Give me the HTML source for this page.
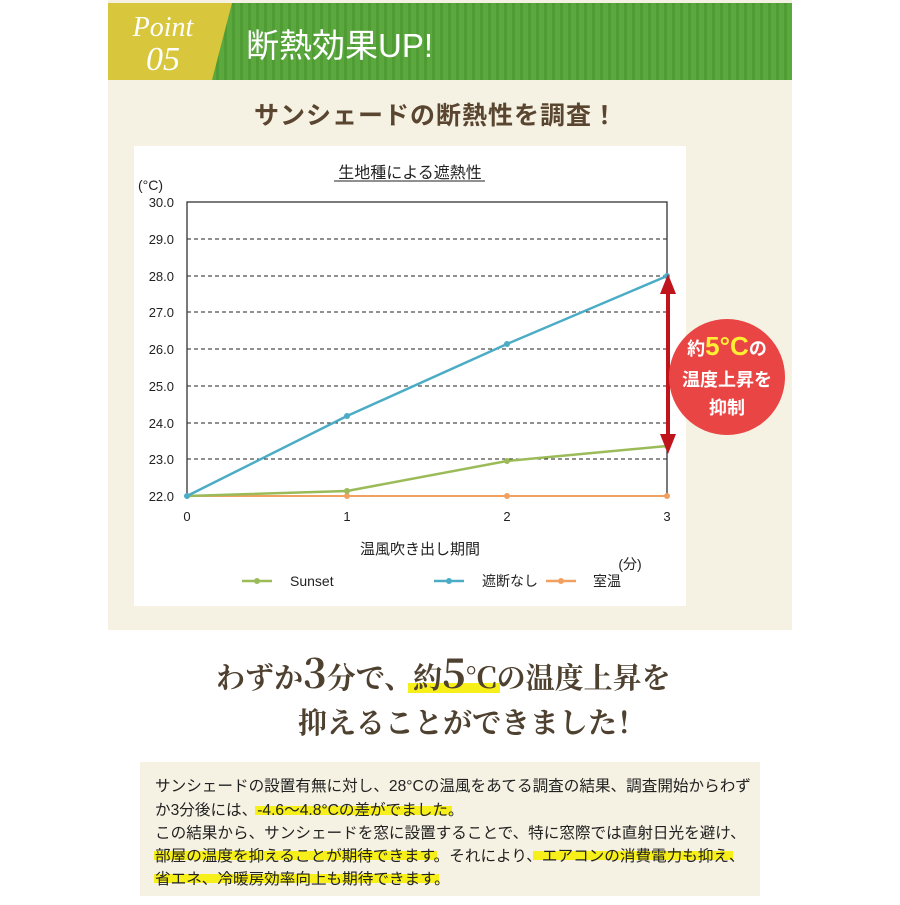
<!DOCTYPE html>
<html><head><meta charset="utf-8"><style>
body{margin:0;width:900px;height:900px;background:#fff;overflow:hidden;font-family:"Liberation Sans","Noto Sans CJK JP",sans-serif}
</style></head><body>
<svg width="900" height="900" xmlns="http://www.w3.org/2000/svg" font-family="'Liberation Sans','Noto Sans CJK JP',sans-serif">
<defs>
<pattern id="st" width="8" height="10" patternUnits="userSpaceOnUse"><rect width="8" height="10" fill="#5aa83e"/><rect width="3" height="10" fill="#4f9c35"/></pattern>
</defs>
<rect x="108" y="0" width="684" height="630" fill="#f5f2e3"/>
<rect x="108" y="3" width="684" height="77" fill="url(#st)"/>
<polygon points="108,3 232,3 212,80 108,80" fill="#d8c73c"/>
<text x="163" y="36" font-family="'Liberation Serif',serif" font-style="italic" font-size="28" fill="#fff" text-anchor="middle">Point</text>
<text x="163" y="70" font-family="'Liberation Serif',serif" font-style="italic" font-size="34" fill="#fff" text-anchor="middle">05</text>
<text x="246" y="57" font-size="33" fill="#fff">断熱効果UP!</text>
<text x="436" y="124" font-size="25" font-weight="bold" fill="#5a4630" text-anchor="middle" letter-spacing="1">サンシェードの断熱性を調査！</text>
<rect x="134" y="146" width="552" height="460" fill="#fff"/>
<text x="410" y="178" font-size="16" fill="#222" text-anchor="middle">生地種による遮熱性</text>
<line x1="334" y1="181" x2="485" y2="181" stroke="#222" stroke-width="1"/>
<text x="138" y="190" font-size="14" fill="#222">(°C)</text>
<g stroke="#222" stroke-width="1" stroke-dasharray="4,3">
<line x1="187" y1="239" x2="667" y2="239"/><line x1="187" y1="276" x2="667" y2="276"/><line x1="187" y1="312" x2="667" y2="312"/><line x1="187" y1="349" x2="667" y2="349"/><line x1="187" y1="386" x2="667" y2="386"/><line x1="187" y1="423" x2="667" y2="423"/><line x1="187" y1="459" x2="667" y2="459"/>
</g>
<rect x="187" y="202" width="480" height="294" fill="none" stroke="#333" stroke-width="1.3"/>
<g font-size="13" fill="#222" text-anchor="end">
<text x="174" y="207">30.0</text><text x="174" y="244">29.0</text><text x="174" y="281">28.0</text><text x="174" y="317">27.0</text><text x="174" y="354">26.0</text><text x="174" y="391">25.0</text><text x="174" y="428">24.0</text><text x="174" y="464">23.0</text><text x="174" y="501">22.0</text>
</g>
<g font-size="13" fill="#222" text-anchor="middle">
<text x="187" y="521">0</text><text x="347" y="521">1</text><text x="507" y="521">2</text><text x="667" y="521">3</text>
</g>
<text x="420" y="554" font-size="15" fill="#222" text-anchor="middle">温風吹き出し期間</text>
<text x="630" y="569" font-size="14" fill="#222" text-anchor="middle">(分)</text>
<polyline points="187,496 347,496 507,496 667,496" fill="none" stroke="#f0a060" stroke-width="2"/>
<polyline points="187,496 347,491 507,461 667,446" fill="none" stroke="#9bbb59" stroke-width="2.5"/>
<polyline points="187,496 347,416 507,344 667,276" fill="none" stroke="#4bacc6" stroke-width="2.5"/>
<g fill="#f0a060"><circle cx="347" cy="496" r="3"/><circle cx="507" cy="496" r="3"/><circle cx="667" cy="496" r="3"/></g>
<g fill="#9bbb59"><circle cx="347" cy="491" r="3"/><circle cx="507" cy="461" r="3"/><circle cx="667" cy="446" r="3"/></g>
<g fill="#4bacc6"><circle cx="187" cy="496" r="3"/><circle cx="347" cy="416" r="3"/><circle cx="507" cy="344" r="3"/><circle cx="667" cy="276" r="3"/></g>
<line x1="242" y1="581" x2="272" y2="581" stroke="#9bbb59" stroke-width="2.5"/><circle cx="257" cy="581" r="3" fill="#9bbb59"/>
<text x="290" y="586" font-size="14" fill="#222">Sunset</text>
<line x1="434" y1="581" x2="464" y2="581" stroke="#4bacc6" stroke-width="2.5"/><circle cx="449" cy="581" r="3" fill="#4bacc6"/>
<text x="482" y="586" font-size="14" fill="#222">遮断なし</text>
<line x1="546" y1="581" x2="576" y2="581" stroke="#f0a060" stroke-width="2.5"/><circle cx="561" cy="581" r="3" fill="#f0a060"/>
<text x="593" y="586" font-size="14" fill="#222">室温</text>
<line x1="668" y1="290" x2="668" y2="446" stroke="#c0141c" stroke-width="4"/>
<polygon points="668,274 660,294 676,294" fill="#c0141c"/>
<polygon points="668,454 660,434 676,434" fill="#c0141c"/>
<circle cx="727" cy="377" r="58" fill="#ea4545"/>
<text x="727" y="355" font-size="18" font-weight="bold" fill="#fff" text-anchor="middle">約<tspan fill="#ffee33" font-size="26">5°C</tspan>の</text>
<text x="727" y="386" font-size="18" font-weight="bold" fill="#fff" text-anchor="middle">温度上昇を</text>
<text x="727" y="414" font-size="18" font-weight="bold" fill="#fff" text-anchor="middle">抑制</text>
<rect x="408" y="683" width="92" height="10" fill="#f7ef1a"/>
<text x="216" y="688" font-family="'Noto Serif CJK SC',serif" font-size="29" font-weight="bold" fill="#4e4130">わずか<tspan font-size="40">3</tspan>分で、約<tspan font-size="40">5</tspan>°Cの温度上昇を</text>
<text x="298" y="733" font-family="'Noto Serif CJK SC',serif" font-size="29" font-weight="bold" fill="#4e4130">抑えることができました！</text>
<rect x="140" y="762" width="620" height="134" fill="#f5f2e3"/>
<g fill="#f7ef1a">
<rect x="255" y="806" width="197" height="9"/>
<rect x="154" y="851" width="283" height="9"/>
<rect x="533" y="851" width="200" height="9"/>
<rect x="154" y="874" width="285" height="9"/>
</g>
<g font-size="15.6" fill="#222">
<text x="155" y="791">サンシェードの設置有無に対し、28°Cの温風をあてる調査の結果、調査開始からわず</text>
<text x="155" y="815">か3分後には、-4.6～4.8°Cの差がでました。</text>
<text x="155" y="838">この結果から、サンシェードを窓に設置することで、特に窓際では直射日光を避け、</text>
<text x="155" y="861">部屋の温度を抑えることが期待できます。それにより、エアコンの消費電力も抑え、</text>
<text x="155" y="884">省エネ、冷暖房効率向上も期待できます。</text>
</g>
</svg>
</body></html>
